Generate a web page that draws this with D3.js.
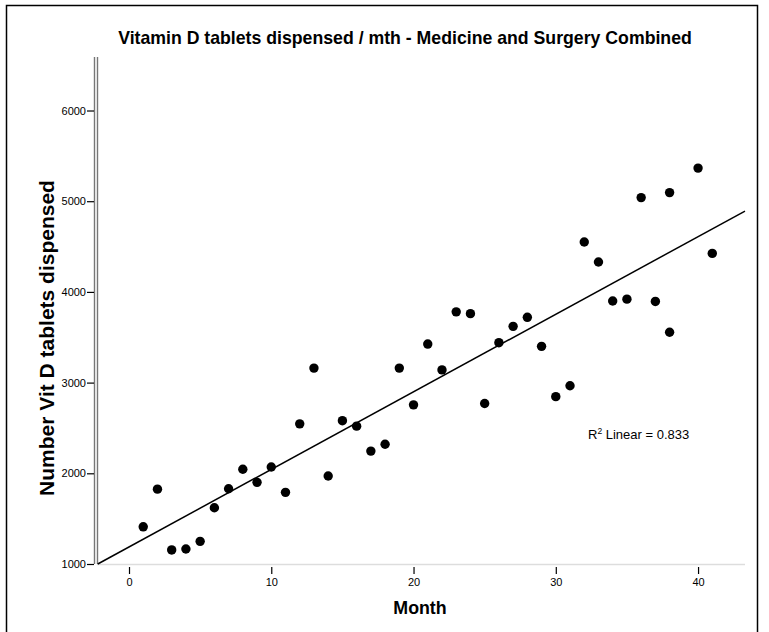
<!DOCTYPE html>
<html>
<head>
<meta charset="utf-8">
<script src="https://cdn.jsdelivr.net/npm/d3@7"></script>
<style>
  html, body { margin: 0; padding: 0; background: #fff; }
  svg { display: block; font-family: "Liberation Sans", Arial, sans-serif; }
</style>
</head>
<body>
<svg id="chart" width="769" height="632"></svg>
<script>
// Monthly counts of vitamin D tablets dispensed
const months = [1, 2, 3, 4, 5, 6, 7, 8, 9, 10,
                11, 12, 13, 14, 15, 16, 17, 18, 19, 20,
                21, 22, 23, 24, 25, 26, 27, 28, 29, 30,
                31, 32, 33, 34, 35, 36, 37, 38, 38, 40, 41];
const tablets = [1410, 1825, 1155, 1165, 1250, 1620, 1830, 2045, 1900, 2070,
                 1790, 2545, 3160, 1970, 2580, 2520, 2245, 2320, 3160, 2755,
                 3425, 3140, 3780, 3760, 2770, 3440, 3620, 3720, 3400, 2845,
                 2965, 4550, 4330, 3900, 3920, 5040, 3895, 5095, 3555, 5365, 4425];
const xTicks = [0, 10, 20, 30, 40];
const yTicks = [1000, 2000, 3000, 4000, 5000, 6000];
const xDomain = [-2.25, 43.3];
const yDomain = [1000, 6590];
const rSquaredText = "0.833";

const svg = d3.select("#chart");

// outer frame
svg.append("rect")
  .attr("x", 6.5).attr("y", 5.5)
  .attr("width", 751).attr("height", 640)
  .attr("fill", "none").attr("stroke", "#000").attr("stroke-width", 1.5);

const x = d3.scaleLinear().domain(xDomain).range([97, 745]);
const y = d3.scaleLinear().domain(yDomain).range([564, 57]);

// title
svg.append("text")
  .attr("x", 405).attr("y", 44)
  .attr("text-anchor", "middle")
  .attr("font-size", 17.7).attr("font-weight", "bold")
  .text("Vitamin D tablets dispensed / mth - Medicine and Surgery Combined");

// x axis baseline (light)
svg.append("line")
  .attr("x1", x(xDomain[0])).attr("x2", x(xDomain[1]))
  .attr("y1", y(yDomain[0]) + 0.5).attr("y2", y(yDomain[0]) + 0.5)
  .attr("stroke", "#ddd").attr("stroke-width", 1.5);

// x axis ticks and labels
const xAxis = d3.axisBottom(x).tickValues(xTicks).tickSize(7).tickPadding(4).tickFormat(d3.format("d"));
const gx = svg.append("g").attr("transform", `translate(0,${y(yDomain[0]) + 3})`).call(xAxis);
gx.select(".domain").remove();
gx.selectAll(".tick line").attr("stroke", "#000").attr("stroke-width", 1.2);
gx.selectAll(".tick text").attr("font-size", 11).attr("fill", "#000")
  .attr("font-family", "Liberation Sans, Arial, sans-serif");

// y axis: double rule
[94.5, 97.5].forEach(px => {
  svg.append("line")
    .attr("x1", px).attr("x2", px)
    .attr("y1", y(yDomain[1])).attr("y2", y(yDomain[0]))
    .attr("stroke", "#777").attr("stroke-width", 1.4);
});

const yAxis = d3.axisLeft(y).tickValues(yTicks).tickSize(7).tickPadding(1).tickFormat(d3.format("d"));
const gy = svg.append("g").attr("transform", "translate(94,0)").call(yAxis);
gy.select(".domain").remove();
gy.selectAll(".tick line").attr("stroke", "#000").attr("stroke-width", 1.2);
gy.selectAll(".tick text").attr("font-size", 11).attr("fill", "#000")
  .attr("font-family", "Liberation Sans, Arial, sans-serif");

// axis titles
svg.append("text")
  .attr("x", 420).attr("y", 614)
  .attr("text-anchor", "middle")
  .attr("font-size", 17.8).attr("font-weight", "bold")
  .text("Month");

svg.append("text")
  .attr("transform", "translate(54,338) rotate(-90)")
  .attr("text-anchor", "middle")
  .attr("font-size", 21).attr("font-weight", "bold")
  .text("Number Vit D tablets dispensed");

// least-squares fit line
const n = months.length;
const mx = d3.mean(months), my = d3.mean(tablets);
let sxy = 0, sxx = 0;
for (let i = 0; i < n; i++) {
  sxy += (months[i] - mx) * (tablets[i] - my);
  sxx += (months[i] - mx) ** 2;
}
const slope = sxy / sxx;
const intercept = my - slope * mx;
const fit = v => intercept + slope * v;

// clip fit line to plotting area
let x0 = xDomain[0], x1 = xDomain[1];
if (fit(x0) < yDomain[0]) x0 = (yDomain[0] - intercept) / slope;

const plot = svg.append("g");
plot.append("line")
  .attr("x1", x(x0)).attr("y1", y(fit(x0)))
  .attr("x2", x(x1)).attr("y2", y(fit(x1)))
  .attr("stroke", "#000").attr("stroke-width", 1.5);

// points
plot.selectAll("circle")
  .data(months.map((m, i) => ({ m, v: tablets[i] })))
  .join("circle")
  .attr("cx", d => x(d.m))
  .attr("cy", d => y(d.v))
  .attr("r", 4.7)
  .attr("fill", "#000");

// R squared annotation
const rt = svg.append("text")
  .attr("x", 588).attr("y", 439)
  .attr("font-size", 13).attr("fill", "#000");
rt.append("tspan").text("R");
rt.append("tspan").attr("font-size", 8.5).attr("dy", -5).text("2");
rt.append("tspan").attr("dy", 5).text(" Linear = " + rSquaredText);
</script>
</body>
</html>
